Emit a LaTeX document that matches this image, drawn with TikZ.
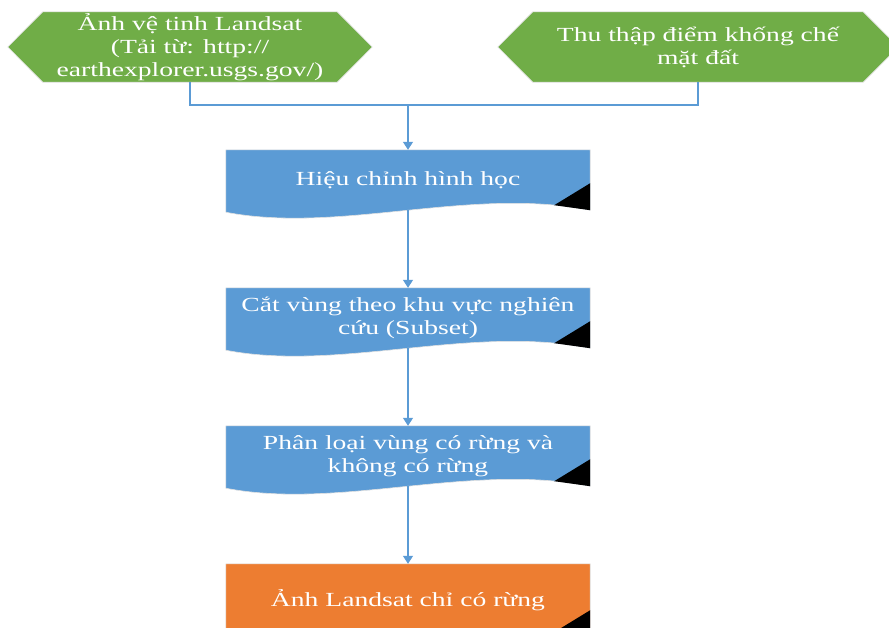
\documentclass[tikz,border=0pt]{standalone}
\usepackage{fontspec}
\setmainfont{Liberation Serif}[FakeStretch=1.38]
\usepackage{tikz}
\usetikzlibrary{arrows.meta}
\definecolor{hexgreen}{RGB}{112,173,71}
\definecolor{docblue}{RGB}{91,155,213}
\definecolor{resorange}{RGB}{237,125,49}
\tikzset{
    every node/.style={inner sep=0pt, text=white, align=center,
    	font=\fontsize{20}{23}\selectfont}
}
\tikzset{
    hexbox/.style={minimum height=70, minimum width=364},
    docbox/.style={minimum height=60, minimum width=364},
    flow/.style={draw=docblue, line width=1.3pt, -{Triangle[width=10pt,length=8pt]}}
}
\pgfdeclarelayer{background}
\pgfsetlayers{background,main}

\begin{document}
\begin{tikzpicture}[x=1pt, y=-1pt]
	\clip (0,0) rectangle (889,627);
	\node (landsat) [hexbox] at (190,47) {Ảnh vệ tinh Landsat\\(Tải từ: http://\\earthexplorer.usgs.gov/)};
	\node (gcp) [hexbox, minimum width=400] at (698,47) {Thu thập điểm khống chế\\mặt đất};
	\node (geo) [docbox] at (408,180) {Hiệu chỉnh hình học};
	\node (subset) [docbox] at (408,318) {Cắt vùng theo khu vực nghiên\\cứu (Subset)};
	\node (classify) [docbox] at (408,456) {Phân loại vùng có rừng và\\không có rừng};
	\node (forest) [docbox, minimum height=73] at (408,600.5) {Ảnh Landsat chỉ có rừng};
	\coordinate (merge) at (408,105);

	\begin{pgfonlayer}{background}
	\foreach \n in {landsat,gcp}
		\filldraw[fill=hexgreen, draw=black!12, line width=.6pt] (\n.west) -- ([shift={(35,0)}]\n.north west)
			-- ([shift={(-35,0)}]\n.north east) -- (\n.east) -- ([shift={(-35,0)}]\n.south east)
			-- ([shift={(35,0)}]\n.south west) -- cycle;
	\foreach \n/\c in {geo/docblue,subset/docblue,classify/docblue,forest/resorange} {
		\filldraw[fill=\c, draw=black!12, line width=.6pt] (\n.north west) -- (\n.north east) -- (\n.south east)
			.. controls +(-120,-24) and +(114,22) .. ([shift={(0,2)}]\n.south west) -- cycle;
		\fill[black] ([shift={(-36,-5)}]\n.south east) -- ([shift={(0,-27)}]\n.south east) -- (\n.south east) -- cycle;
	}
	\end{pgfonlayer}

	\draw[flow, -] (landsat.south) |- (merge);
	\draw[flow, -] (gcp.south) |- (merge);
	\draw[flow] (merge) -- (geo.north);
	\draw[flow] (geo.south) -- (subset.north);
	\draw[flow] (subset.south) -- (classify.north);
	\draw[flow] (classify.south) -- (forest.north);
\end{tikzpicture}
\end{document}
